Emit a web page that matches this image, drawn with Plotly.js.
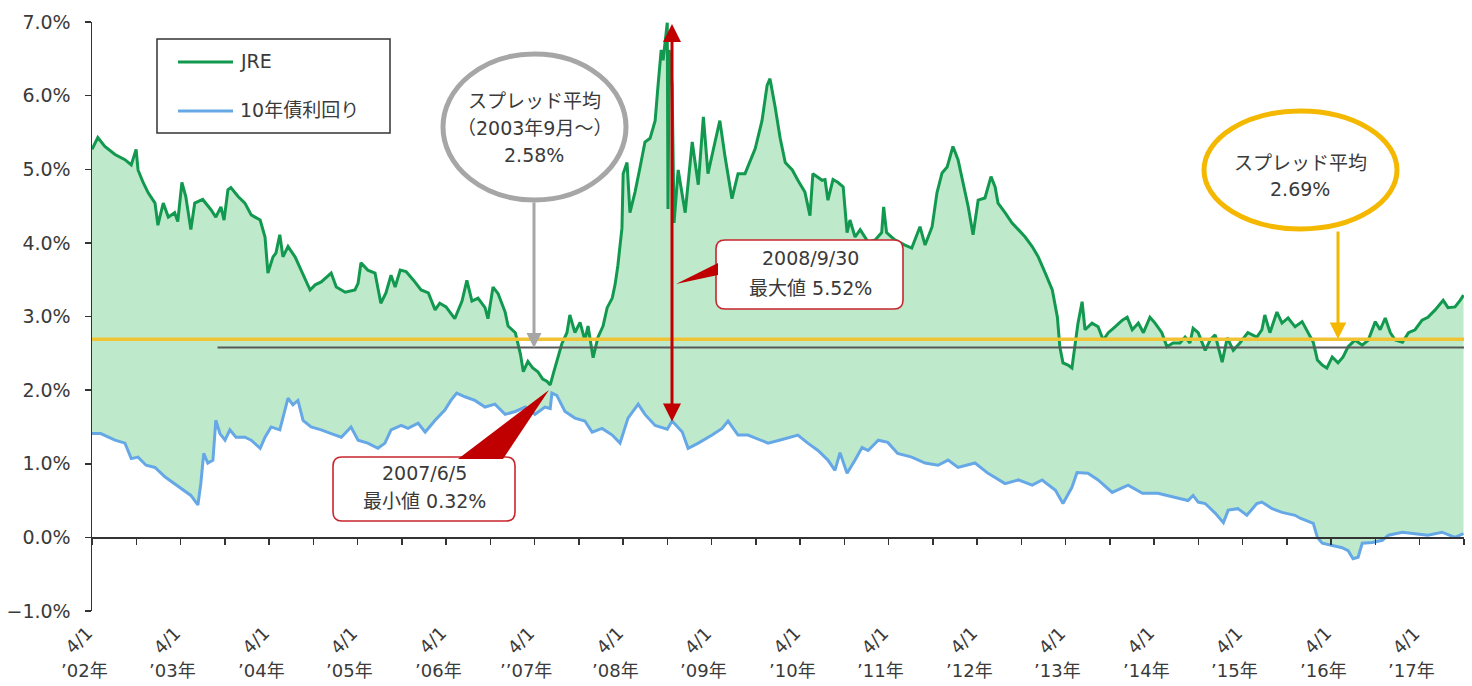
<!DOCTYPE html>
<html>
<head>
<meta charset="utf-8">
<script src="https://cdn.plot.ly/plotly-3.0.1.min.js"></script>
<style>
html,body{margin:0;padding:0;background:#fff;}
#chart{width:1472px;height:686px;}
</style>
</head>
<body>
<div id="chart"></div>
<script>
// ---- data (yields in %) ----
const jreDates = [
'2002-04-01','2002-04-25','2002-05-24','2002-07-05','2002-08-15','2002-09-10','2002-09-30','2002-10-08','2002-10-29','2002-11-19',
'2002-12-17','2002-12-29','2003-01-20','2003-02-10','2003-03-08','2003-03-21','2003-04-07','2003-04-23','2003-05-14','2003-05-30',
'2003-07-02','2003-08-05','2003-08-25','2003-09-15','2003-09-28','2003-10-14','2003-10-26','2003-11-25','2003-12-23','2004-01-18',
'2004-02-24','2004-03-15','2004-03-27','2004-04-17','2004-04-29','2004-05-15','2004-05-28','2004-06-18','2004-07-17','2004-08-11',
'2004-09-17','2004-10-08','2004-11-02','2004-12-13','2005-01-03','2005-02-09','2005-03-21','2005-04-03','2005-04-15','2005-05-13',
'2005-06-12','2005-07-06','2005-07-27','2005-08-17','2005-09-03','2005-09-24','2005-10-18','2005-11-16','2005-12-19','2006-01-18',
'2006-02-15','2006-03-06','2006-04-01','2006-05-07','2006-06-06','2006-06-26','2006-07-17','2006-08-11','2006-09-09','2006-09-21',
'2006-10-12','2006-11-02','2006-12-01','2006-12-13','2007-01-12','2007-02-02','2007-02-14','2007-03-05','2007-03-25','2007-04-15',
'2007-05-05','2007-05-22','2007-06-05','2007-06-20','2007-07-02','2007-07-23','2007-08-13','2007-08-25','2007-09-15','2007-10-06',
'2007-10-26','2007-11-08','2007-11-29','2007-12-19','2008-01-09','2008-01-26','2008-02-16','2008-02-28','2008-03-10','2008-03-27',
'2008-04-01','2008-04-17','2008-04-29','2008-05-20','2008-06-10','2008-06-30','2008-07-21','2008-08-11','2008-08-23','2008-09-05',
'2008-09-13','2008-09-30','2008-10-03','2008-10-08','2008-10-20','2008-10-28','2008-11-14','2008-12-13','2009-01-11','2009-02-05',
'2009-02-26','2009-03-17','2009-04-15','2009-05-05','2009-05-26','2009-06-24','2009-07-19','2009-08-17','2009-09-28','2009-10-26',
'2009-11-16','2009-11-28','2009-12-19','2010-01-09','2010-01-30','2010-02-28','2010-03-23','2010-04-21','2010-05-12','2010-05-24',
'2010-07-01','2010-07-13','2010-07-25','2010-08-15','2010-09-05','2010-09-26','2010-10-12','2010-10-24','2010-11-14','2010-12-05',
'2011-01-07','2011-02-05','2011-03-04','2011-03-12','2011-03-24','2011-04-27','2011-06-08','2011-07-06','2011-08-09','2011-08-30',
'2011-09-28','2011-10-18','2011-11-08','2011-11-29','2011-12-11','2011-12-23','2012-01-13','2012-02-03','2012-02-24','2012-03-15',
'2012-04-05','2012-05-03','2012-05-28','2012-06-14','2012-06-26','2012-07-25','2012-08-23','2012-09-18','2012-10-16','2012-11-14',
'2012-12-09','2013-01-07','2013-02-05','2013-02-26','2013-03-08','2013-03-21','2013-04-11','2013-04-27','2013-05-10','2013-05-22',
'2013-06-08','2013-06-20','2013-07-19','2013-08-13','2013-09-03','2013-09-24','2013-10-22','2013-11-21','2013-12-11','2014-01-01',
'2014-01-26','2014-02-16','2014-03-15','2014-04-05','2014-05-03','2014-05-24','2014-06-18','2014-07-17','2014-08-07','2014-08-27',
'2014-09-09','2014-09-30','2014-10-29','2014-11-18','2014-12-09','2015-01-07','2015-01-28','2015-02-22','2015-03-21','2015-04-23',
'2015-05-30','2015-06-20','2015-07-02','2015-07-23','2015-08-21','2015-09-11','2015-10-06','2015-11-04','2015-12-03','2015-12-27',
'2016-01-18','2016-02-04','2016-02-24','2016-03-14','2016-04-05','2016-04-29','2016-05-20','2016-06-10','2016-07-08','2016-08-07',
'2016-09-01','2016-09-30','2016-10-20','2016-11-10','2016-12-01','2016-12-21','2017-01-20','2017-02-14','2017-03-13','2017-04-11',
'2017-05-05','2017-06-04','2017-07-07','2017-07-27','2017-08-25','2017-09-15','2017-09-29'
];
const jreValues = [
5.27,5.43,5.31,5.20,5.13,5.06,5.27,4.99,4.82,4.68,
4.54,4.24,4.54,4.35,4.41,4.29,4.82,4.63,4.18,4.54,
4.59,4.45,4.35,4.49,4.31,4.72,4.75,4.63,4.54,4.38,
4.31,4.08,3.59,3.81,3.86,4.11,3.81,3.95,3.81,3.63,
3.36,3.43,3.47,3.59,3.40,3.33,3.36,3.45,3.73,3.63,
3.59,3.18,3.32,3.56,3.40,3.63,3.61,3.50,3.36,3.32,
3.09,3.18,3.13,2.97,3.21,3.49,3.21,3.25,3.12,2.97,
3.40,3.31,3.06,2.87,2.78,2.49,2.25,2.39,2.30,2.25,
2.15,2.12,2.07,2.25,2.39,2.63,2.78,3.02,2.78,2.92,
2.68,2.87,2.44,2.72,2.87,3.12,3.25,3.44,3.69,4.20,
4.94,5.09,4.41,4.69,5.03,5.37,5.42,5.66,6.14,6.62,
6.48,6.99,4.46,6.62,6.14,4.27,4.99,4.41,5.37,4.79,
5.71,4.94,5.37,5.66,5.18,4.60,4.94,4.94,5.28,5.66,
6.14,6.23,5.85,5.42,5.09,4.99,4.85,4.69,4.37,4.94,
4.85,4.86,4.58,4.86,4.82,4.76,4.14,4.31,4.08,4.18,
4.01,4.04,4.14,4.49,4.14,4.04,3.97,3.93,4.22,3.97,
4.22,4.68,4.95,5.03,5.17,5.31,5.13,4.82,4.49,4.11,
4.58,4.61,4.90,4.76,4.54,4.41,4.27,4.18,4.08,3.95,
3.81,3.59,3.36,2.99,2.59,2.37,2.34,2.30,2.59,2.91,
3.20,2.82,2.91,2.86,2.68,2.78,2.86,2.95,2.99,2.82,
2.91,2.78,2.99,2.91,2.78,2.59,2.64,2.64,2.72,2.64,
2.84,2.78,2.54,2.68,2.75,2.38,2.71,2.54,2.64,2.78,
2.72,2.82,3.02,2.78,3.06,2.91,2.98,2.86,2.93,2.78,
2.65,2.41,2.34,2.30,2.45,2.37,2.45,2.59,2.68,2.61,
2.68,2.93,2.82,2.98,2.78,2.68,2.65,2.78,2.82,2.95,
2.99,3.09,3.22,3.12,3.13,3.22,3.29
];
const bondDates = [
'2002-04-01','2002-05-07','2002-07-05','2002-08-15','2002-09-10','2002-10-08','2002-11-10','2002-12-17','2003-01-28','2003-03-08',
'2003-04-19','2003-05-14','2003-06-12','2003-06-24','2003-07-06','2003-07-23','2003-08-13','2003-08-25','2003-09-11','2003-10-02',
'2003-10-22','2003-11-16','2003-12-23','2004-01-18','2004-02-24','2004-03-15','2004-04-09','2004-05-15','2004-06-18','2004-07-08',
'2004-07-29','2004-08-19','2004-09-21','2004-11-02','2004-12-13','2005-01-24','2005-03-05','2005-04-03','2005-05-13','2005-06-24',
'2005-07-23','2005-08-17','2005-09-28','2005-10-26','2005-12-07','2006-01-05','2006-02-15','2006-03-27','2006-04-21','2006-05-15',
'2006-06-18','2006-07-29','2006-09-09','2006-10-20','2006-12-01','2007-01-12','2007-02-22','2007-04-03','2007-05-14','2007-06-05',
'2007-06-12','2007-07-02','2007-08-05','2007-09-15','2007-10-26','2007-11-25','2008-01-05','2008-02-16','2008-03-19','2008-04-21',
'2008-06-02','2008-06-30','2008-08-11','2008-09-30','2008-10-20','2008-12-01','2008-12-25','2009-02-05','2009-04-03','2009-05-14',
'2009-06-08','2009-07-19','2009-08-29','2009-10-10','2009-11-20','2010-01-17','2010-03-23','2010-05-03','2010-06-14','2010-07-25',
'2010-08-23','2010-09-13','2010-10-12','2010-11-14','2010-12-13','2011-01-07','2011-02-18','2011-03-29','2011-05-09','2011-07-06',
'2011-08-30','2011-10-22','2011-12-03','2012-01-13','2012-03-23','2012-05-16','2012-07-25','2012-09-18','2012-11-14','2012-12-25',
'2013-02-18','2013-03-21','2013-04-27','2013-05-18','2013-07-02','2013-08-13','2013-10-10','2013-12-15','2014-02-12','2014-04-17',
'2014-06-26','2014-08-19','2014-09-09','2014-09-30','2014-10-29','2014-12-09','2015-01-12','2015-02-01','2015-03-13','2015-04-19',
'2015-05-30','2015-06-20','2015-08-01','2015-09-11','2015-11-04','2015-11-25','2016-01-18','2016-02-04','2016-02-24','2016-04-05',
'2016-05-16','2016-06-10','2016-06-30','2016-07-21','2016-08-07','2016-09-18','2016-10-29','2016-11-23','2017-01-20','2017-03-13',
'2017-05-05','2017-07-02','2017-08-25','2017-09-29'
];
const bondValues = [
1.41,1.41,1.32,1.28,1.07,1.09,0.98,0.95,0.82,0.73,
0.64,0.57,0.44,0.73,1.14,1.01,1.05,1.59,1.41,1.32,
1.46,1.36,1.36,1.32,1.21,1.36,1.50,1.46,1.89,1.80,
1.86,1.59,1.50,1.46,1.41,1.36,1.50,1.32,1.28,1.21,
1.28,1.46,1.52,1.48,1.55,1.43,1.59,1.73,1.86,1.96,
1.91,1.86,1.77,1.81,1.67,1.71,1.77,1.67,1.77,1.75,
1.96,1.93,1.71,1.62,1.58,1.43,1.48,1.39,1.28,1.62,
1.81,1.67,1.52,1.47,1.58,1.43,1.21,1.28,1.39,1.48,
1.58,1.39,1.39,1.33,1.28,1.33,1.39,1.28,1.18,1.05,
0.91,1.15,0.87,1.05,1.22,1.18,1.32,1.29,1.14,1.09,
1.01,0.98,1.05,0.95,1.01,0.87,0.73,0.78,0.71,0.78,
0.64,0.46,0.68,0.88,0.87,0.78,0.61,0.71,0.60,0.60,
0.54,0.50,0.57,0.48,0.46,0.33,0.20,0.37,0.39,0.30,
0.46,0.48,0.39,0.34,0.30,0.26,0.19,0.00,-0.08,-0.11,
-0.14,-0.18,-0.29,-0.27,-0.08,-0.07,-0.04,0.03,0.07,0.05,
0.03,0.07,0.00,0.05
];
const seriesNames = ['JRE', '10年債利回り'];
const spreadAvgAll = 2.69;
const spreadAvgSince2003 = 2.58;
const spreadAvgStart = '2003-09-01';
const tickDates = ['2002-04-01','2003-04-01','2004-04-01','2005-04-01','2006-04-01','2007-04-01','2008-04-01','2009-04-01',
                   '2010-04-01','2011-04-01','2012-04-01','2013-04-01','2014-04-01','2015-04-01','2016-04-01','2017-04-01'];
const tickDayLabel = '4/1';
const tickYearLabels = ['’02年','’03年','’04年','’05年','’06年','’’07年','’08年','’09年',
                        '’10年','’11年','’12年','’13年','’14年','’15年','’16年','’17年'];
const calloutMax = ['2008/9/30', '最大値 5.52%'];
const calloutMin = ['2007/6/5', '最小値 0.32%'];
const bubbleGray = ['スプレッド平均', '（2003年9月～）', '2.58%'];
const bubbleYellow = ['スプレッド平均', '2.69%'];

// ---- layout helpers (pixel -> paper) ----
const L = 92, R = 1464, T = 22, B = 611;
const W = R - L, H = B - T;
const px = x => (x - L) / W;
const py = y => (B - y) / H;
const pt = (x, y) => px(x).toFixed(5) + ',' + py(y).toFixed(5);
function roundRect(x0, y0, x1, y1, r) {
  return 'M' + pt(x0 + r, y0) + ' L' + pt(x1 - r, y0) + ' Q' + pt(x1, y0) + ' ' + pt(x1, y0 + r) +
         ' L' + pt(x1, y1 - r) + ' Q' + pt(x1, y1) + ' ' + pt(x1 - r, y1) +
         ' L' + pt(x0 + r, y1) + ' Q' + pt(x0, y1) + ' ' + pt(x0, y1 - r) +
         ' L' + pt(x0, y0 + r) + ' Q' + pt(x0, y0) + ' ' + pt(x0 + r, y0) + ' Z';
}
function tri(a, b, c) { return 'M' + pt(a[0], a[1]) + ' L' + pt(b[0], b[1]) + ' L' + pt(c[0], c[1]) + ' Z'; }

const FONT = 'DejaVu Sans, "Noto Sans CJK JP", sans-serif';
const TXT = '#3a3a3a';
const GREEN = '#12994F', BLUE = '#66A8E6', FILL = '#BEEACB';
const RED = '#C00000', BOXRED = '#C8262E', GRAY = '#A6A6A6', GOLD = '#F4B800', YLINE = '#F1C232';

const traces = [
  {x: bondDates, y: bondValues, name: seriesNames[1], mode: 'lines', line: {color: BLUE, width: 3}, showlegend: false, hoverinfo: 'skip'},
  {x: jreDates, y: jreValues, name: seriesNames[0], mode: 'lines', line: {color: GREEN, width: 3},
   fill: 'tonexty', fillcolor: FILL, showlegend: false, hoverinfo: 'skip'}
];

const shapes = [
  {type: 'line', xref: 'paper', yref: 'y', x0: 0, x1: 1, y0: spreadAvgAll, y1: spreadAvgAll, line: {color: YLINE, width: 3.5}, layer: 'above'},
  {type: 'line', xref: 'x', yref: 'y', x0: spreadAvgStart, x1: '2017-10-01', y0: spreadAvgSince2003, y1: spreadAvgSince2003, line: {color: '#595959', width: 2}, layer: 'above'},
  // legend box
  {type: 'rect', xref: 'paper', yref: 'paper', x0: px(157), x1: px(390), y0: py(39), y1: py(133), line: {color: '#333', width: 1.5}, fillcolor: '#fff', layer: 'above'},
  {type: 'line', xref: 'paper', yref: 'paper', x0: px(178), x1: px(233), y0: py(62), y1: py(62), line: {color: GREEN, width: 3}, layer: 'above'},
  {type: 'line', xref: 'paper', yref: 'paper', x0: px(178), x1: px(233), y0: py(111), y1: py(111), line: {color: BLUE, width: 3}, layer: 'above'},
  // bubbles
  {type: 'circle', xref: 'paper', yref: 'paper', x0: px(443), x1: px(626), y0: py(54), y1: py(200), line: {color: GRAY, width: 5}, fillcolor: '#fff', layer: 'above'},
  {type: 'circle', xref: 'paper', yref: 'paper', x0: px(1204), x1: px(1397), y0: py(111), y1: py(229), line: {color: GOLD, width: 5}, fillcolor: '#fff', layer: 'above'},
  // callout: max
  {type: 'path', xref: 'paper', yref: 'paper', path: roundRect(716, 240, 903, 309, 9), line: {color: BOXRED, width: 1.6}, fillcolor: '#fff', layer: 'above'},
  {type: 'path', xref: 'paper', yref: 'paper', path: tri([718, 263], [718, 275], [676, 284]), line: {width: 0}, fillcolor: RED, layer: 'above'},
  // callout: min
  {type: 'path', xref: 'paper', yref: 'paper', path: roundRect(333, 457, 515, 521, 9), line: {color: BOXRED, width: 1.6}, fillcolor: '#fff', layer: 'above'},
  {type: 'path', xref: 'paper', yref: 'paper', path: tri([458, 459], [503, 459], [549, 390]), line: {width: 0}, fillcolor: RED, layer: 'above'}
];

const ann = [];
function txt(text, x, y, size, anchor) {
  ann.push({text: text, xref: 'paper', yref: 'paper', x: px(x), y: py(y), xanchor: anchor || 'center', yanchor: 'middle',
            showarrow: false, font: {family: FONT, size: size || 19, color: TXT}});
}
// legend text
txt(seriesNames[0], 238, 61, 19, 'left');
txt(seriesNames[1], 238, 110, 19, 'left');
// bubble texts
txt(bubbleGray[0], 534, 101); txt(bubbleGray[1], 534, 128); txt(bubbleGray[2], 534, 155);
txt(bubbleYellow[0], 1300, 163); txt(bubbleYellow[1], 1300, 189);
// callout texts
txt(calloutMax[0], 810, 258); txt(calloutMax[1], 810, 288);
txt(calloutMin[0], 424, 473); txt(calloutMin[1], 424, 501);
// arrows
function arrow(x, yTip, yTail, color, width, size, both) {
  ann.push({text: '', xref: 'paper', yref: 'paper', x: px(x), y: py(yTip), ax: 0, ay: yTail - yTip,
            showarrow: true, arrowhead: 2, arrowsize: size, arrowwidth: width, arrowcolor: color,
            arrowside: both ? 'end+start' : 'end', startarrowhead: 2, startarrowsize: size, standoff: 0, startstandoff: 0});
}
arrow(534, 348, 201, GRAY, 3, 1);
arrow(1338, 339, 230, GOLD, 3, 1.1);
arrow(672, 24, 423, RED, 3, 1.2, true);
// x tick labels
tickDates.forEach((d, i) => {
  ann.push({text: tickDayLabel, xref: 'x', yref: 'paper', x: d, y: py(640), yanchor: 'middle', xshift: -14, textangle: -45,
            showarrow: false, font: {family: FONT, size: 18, color: TXT}});
  ann.push({text: tickYearLabels[i], xref: 'x', yref: 'paper', x: d, y: py(670), yanchor: 'middle', xshift: -8,
            showarrow: false, font: {family: FONT, size: 18, color: TXT}});
});

const layout = {
  width: 1472, height: 686,
  margin: {l: L, r: 1472 - R, t: T, b: 686 - B, pad: 0},
  paper_bgcolor: '#fff', plot_bgcolor: '#fff',
  font: {family: FONT, color: TXT},
  showlegend: false,
  xaxis: {type: 'date', range: ['2002-04-01', '2017-10-01'], anchor: 'free', position: 0.125,
          showline: true, linecolor: '#333', linewidth: 1.5, ticks: 'outside', ticklen: 6, tickwidth: 1.5, tickcolor: '#333',
          tick0: '2002-04-01', dtick: 'M6', showticklabels: false, showgrid: false, zeroline: false, fixedrange: true},
  yaxis: {range: [-1, 7], dtick: 1, tickformat: '.1f', ticksuffix: '%', showline: true, linecolor: '#333', linewidth: 1.5,
          ticks: 'outside', ticklen: 6, tickwidth: 1.5, tickcolor: '#333', showgrid: false, zeroline: false,
          tickfont: {family: FONT, size: 19, color: TXT}, ticklabelstandoff: 10, fixedrange: true},
  shapes: shapes,
  annotations: ann
};

Plotly.newPlot('chart', traces, layout, {displayModeBar: false, staticPlot: true});
</script>
</body>
</html>
